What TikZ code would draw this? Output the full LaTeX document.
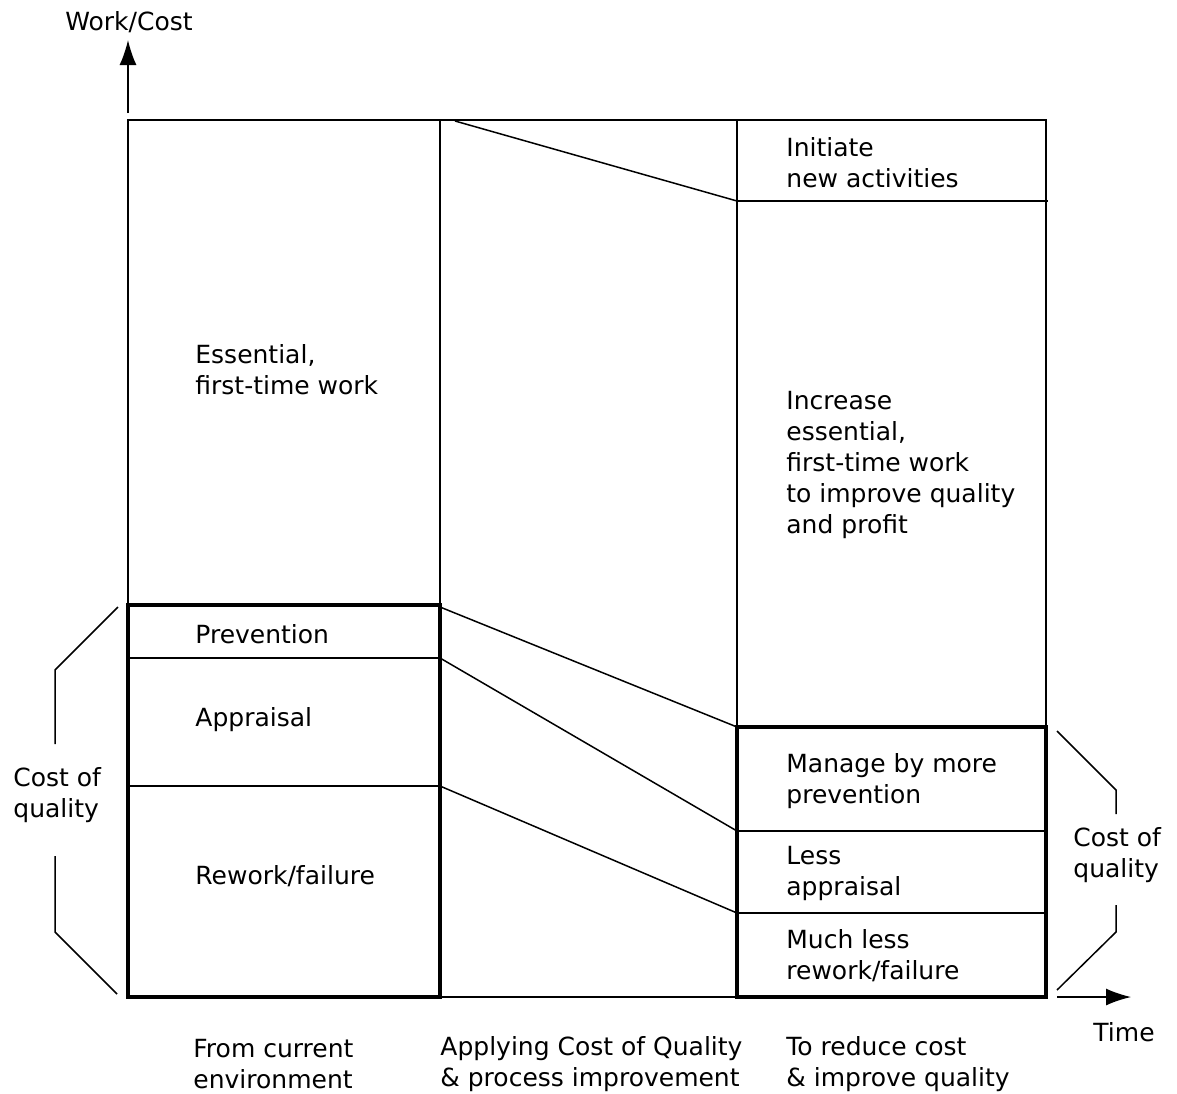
\documentclass[tikz,border=0pt]{standalone}
\usepackage{fontspec}
\setmainfont{DejaVu Sans}
\usetikzlibrary{arrows.meta}

\begin{document}
\begin{tikzpicture}[x=0.5pt,y=-0.5pt,font=\fontsize{12.5}{15.5}\selectfont,
    lbl/.style={anchor=west,align=left,inner sep=0pt},
    ln/.style={line width=0.75pt},
    box/.style={line width=2.4pt},
    arr/.style={-{Latex[length=12.5pt,width=8.5pt]},line width=0.75pt}]
    \useasboundingbox (0,0) rectangle (1177,1093);
    % Key points
    \coordinate (ybot) at (128,113);
    \coordinate (ytip) at (128,40);
    \coordinate (xbot) at (1057,997);
    \coordinate (xtip) at (1131,997);
    \coordinate (n0) at (455,121);
    \coordinate (n1) at (737,201);
    \coordinate (p0) at (440,607);
    \coordinate (p1) at (440,658);
    \coordinate (p2) at (440,786);
    \coordinate (q0) at (737,727);
    \coordinate (q1) at (737,831);
    \coordinate (q2) at (737,913);
    % Frame
    \draw[ln] (128,605) |- (1046,120) -- (1046,727);
    \draw[ln] (440,120) -- (440,605);
    \draw[ln] (737,120) -- (737,727);
    \draw[ln] (n1) -- (1048,201);
    \draw[ln] (440,997) -- (737,997);
    \draw[ln] (128,658) -- (p1) (128,786) -- (p2);
    \draw[ln] (q1) -- (1046,831) (q2) -- (1046,913);
    % Cost of quality boxes
    \draw[box] (128,605) rectangle (440,997);
    \draw[box] (737,727) rectangle (1046,997);
    % Links
    \draw[ln] (n0) -- (n1);
    \draw[ln] (p0) -- (q0);
    \draw[ln] (p1) -- (q1);
    \draw[ln] (p2) -- (q2);
    % Axes
    \draw[arr] (ybot) -- (ytip);
    \draw[arr] (xbot) -- (xtip);
    \node (ylab) at (129,22) {Work/Cost};
    \node (xlab) at (1124,1032) {Time};
    % Brackets
    \draw[ln] (118,607) -- (55,670) -- (55,744);
    \draw[ln] (55,856) -- (55,932) -- (117,994);
    \node[lbl] (cql) at (13,795) {Cost of\\quality};
    \draw[ln] (1057,731) -- (1116,790) -- (1116,814);
    \draw[ln] (1116,905) -- (1116,932) -- (1057,990);
    \node[lbl] (cqr) at (1073,855) {Cost of\\quality};
    % Left column
    \node[lbl] (ess) at (195,370) {Essential,\\first-time work};
    \node[lbl] (prv) at (195,634) {Prevention};
    \node[lbl] (apr) at (195,720) {Appraisal};
    \node[lbl] (rwk) at (195,876) {Rework/failure};
    % Right column
    \node[lbl] (ini) at (786,163) {Initiate\\new activities};
    \node[lbl] (inc) at (786,465) {Increase\\essential,\\first-time work\\to improve quality\\and profit};
    \node[lbl] (mng) at (786,781) {Manage by more\\prevention};
    \node[lbl] (lss) at (786,873) {Less\\appraisal};
    \node[lbl] (mch) at (786,956) {Much less\\rework/failure};
    % Column captions
    \node[lbl] (from) at (193,1064) {From current\\environment};
    \node[lbl] (appl) at (440,1064) {Applying Cost of Quality\\\& process improvement};
    \node[lbl] (to) at (786,1064) {To reduce cost\\\& improve quality};
\end{tikzpicture}
\end{document}
